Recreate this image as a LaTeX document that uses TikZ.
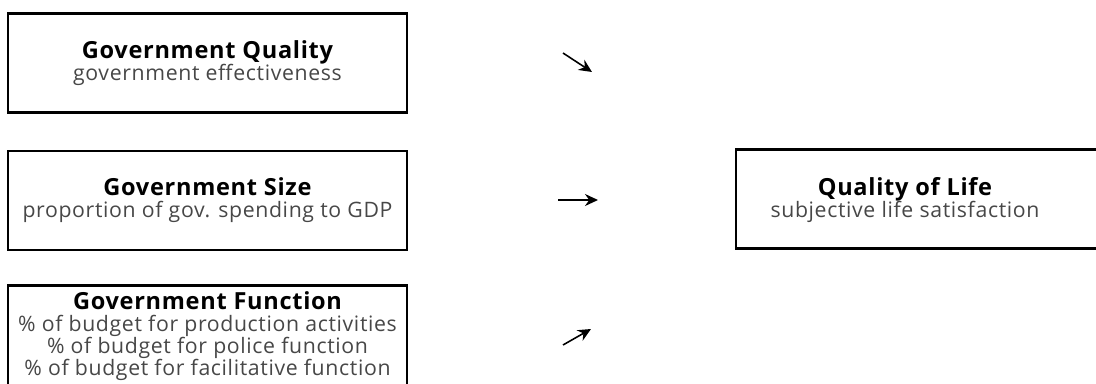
\documentclass[tikz,border=0pt]{standalone}
\usepackage{fontspec}
\setmainfont{Open Sans}[LetterSpace=3]
\usetikzlibrary{arrows.meta,positioning}

\begin{document}
\begin{tikzpicture}[x=0.02cm, y=-0.02cm, >={Stealth[length=0.26cm,width=0.24cm]},
  box/.style={draw, line width=1.5pt, minimum width=7.98cm, minimum height=1.98cm},
  txt/.style={align=center, text=black!72, font=\fontsize{12.1}{12.6}\selectfont},
  flow/.style={->, line width=0.9pt}
]
\def\hd#1{{\fontsize{13.4}{12.6}\selectfont\bfseries\color{black}#1}}
\useasboundingbox (0,0) rectangle (1096,383);

% explanatory variables
\node[box, txt] (gq) at (207.5,63) {\hd{Government Quality}\\government effectiveness};
\node[box, txt] (gs) at (207.5,200.5) {\hd{Government Size}\\proportion of gov. spending to GDP};
\node[box, txt, minimum height=2cm] (gf) at (207.5,336) {\hd{Government Function}\\
  \% of budget for production activities\\
  \% of budget for police function\\
  \% of budget for facilitative function};

% outcome
\node[box, minimum width=7.6cm] (qol) at (926,199) {};
\node[txt] (qolt) at (905,200) {\hd{Quality of Life}\\subjective life satisfaction};

% arrows
\coordinate (a1) at (563,53);  \coordinate (b1) at (592,72);
\coordinate (a2) at (558,200); \coordinate (b2) at (598,200);
\coordinate (a3) at (563,345); \coordinate (b3) at (591,329);
\foreach \i in {1,2,3}{
  \draw[flow] (a\i) -- (b\i);
}
\end{tikzpicture}
\end{document}
